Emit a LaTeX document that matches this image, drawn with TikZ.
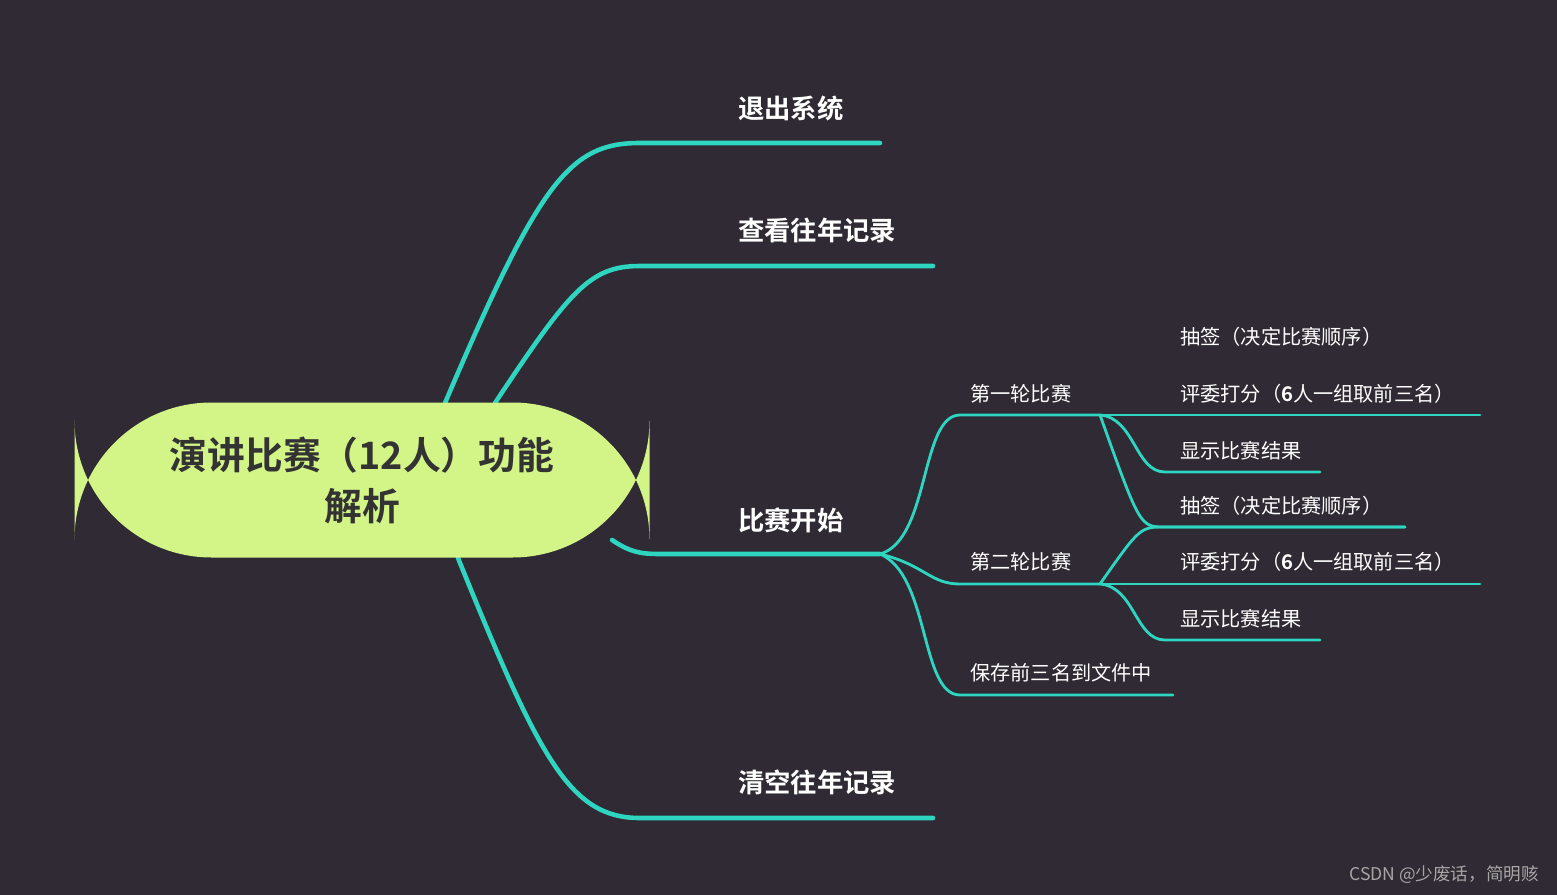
\documentclass[tikz,border=0pt]{standalone}
\usepackage{fontspec}
\setmainfont{Noto Sans CJK SC}[BoldFont={Noto Sans CJK SC Bold}]
\usepackage{tikz}
\definecolor{bgdark}{HTML}{2F2A33}
\definecolor{teal}{HTML}{2ED6C1}
\definecolor{lime}{HTML}{D3F587}
\tikzset{
  mainbranch/.style={teal, line width=2.6pt, line cap=round},
  subbranch/.style={teal, line width=1.6pt, line cap=round},
  bigtext/.style={anchor=west, text=white, font=\bfseries\fontsize{15}{18}\selectfont},
  smalltext/.style={anchor=west, text=white, font=\fontsize{11.5}{14}\selectfont}
}
\begin{document}
\begin{tikzpicture}[x=0.02cm, y=-0.02cm]
            \fill[bgdark] (0,0) rectangle (1557,895);
            \useasboundingbox (0,0) rectangle (1557,895);
            % main branches
            \coordinate (exitA) at (445,403);
            \coordinate (viewA) at (495,403);
            \coordinate (startA) at (612,540);
            \coordinate (clearA) at (458,558);
            \coordinate (start) at (880,554);
            \draw[mainbranch] (exitA) .. controls (540,180) and (570,143) .. (640,143) -- (880,143);
            \draw[mainbranch] (viewA) .. controls (570,290) and (590,266) .. (640,266) -- (933,266);
            \draw[mainbranch] (startA) .. controls (630,552) and (640,554) .. (660,554) -- (start);
            \draw[mainbranch] (clearA) .. controls (540,760) and (570,818) .. (640,818) -- (933,818);
            \node[rounded corners=78, fill=lime, minimum width=575*0.02cm, minimum height=155*0.02cm,
                  align=center, text=black!80, font=\bfseries\fontsize{21.5}{29}\selectfont] (root) at (362,480)
                  {演讲比赛（12人）功能\\解析};
            \node[bigtext] (exit) at (732,108) {退出系统};
            \node[bigtext] (view) at (732,230) {查看往年记录};
            \node[bigtext] (startlbl) at (732,520) {比赛开始};
            \node[bigtext] (clear) at (732,782) {清空往年记录};
            % rounds
            \coordinate (roundA) at (1100,415);
            \coordinate (roundB) at (1100,584);
            \draw[subbranch] (start) .. controls (930,540) and (920,415) .. (960,415) -- (roundA);
            \draw[subbranch] (start) .. controls (925,565) and (930,584) .. (960,584) -- (roundB);
            \draw[subbranch] (start) .. controls (930,575) and (920,695) .. (960,695) -- (1173,695);
            \node[smalltext] (first) at (964,394) {第一轮比赛};
            \node[smalltext] (second) at (964,562) {第二轮比赛};
            \node[smalltext] (save) at (964,673) {保存前三名到文件中};
            % leaves
            \foreach \r/\n in {roundA/a, roundB/b} {
              \draw[subbranch] (\r) .. controls (1140,415-57+\ifx\n a0\else169\fi) .. (1165,358+\ifx\n a0\else169\fi) -- (1405,358+\ifx\n a0\else169\fi);
            }
            \draw[subbranch] (roundA) -- (1480,415);
            \draw[subbranch] (roundA) .. controls (1135,418) and (1135,472) .. (1165,472) -- (1320,472);
            \draw[subbranch] (roundB) -- (1480,584);
            \draw[subbranch] (roundB) .. controls (1135,587) and (1135,640) .. (1165,640) -- (1320,640);
            \node[smalltext] (drawA) at (1174,337) {抽签（决定比赛顺序）};
            \node[smalltext] (scoreA) at (1174,394) {评委打分（\textbf{6}人一组取前三名）};
            \node[smalltext] (showA) at (1174,451) {显示比赛结果};
            \node[smalltext] (drawB) at (1174,506) {抽签（决定比赛顺序）};
            \node[smalltext] (scoreB) at (1174,562) {评委打分（\textbf{6}人一组取前三名）};
            \node[smalltext] (showB) at (1174,619) {显示比赛结果};
            \node[anchor=east, text=gray!70, font=\fontsize{10}{12}\selectfont] (mark) at (1545,875) {CSDN @少废话，简明赅};
        \end{tikzpicture}
\end{document}
